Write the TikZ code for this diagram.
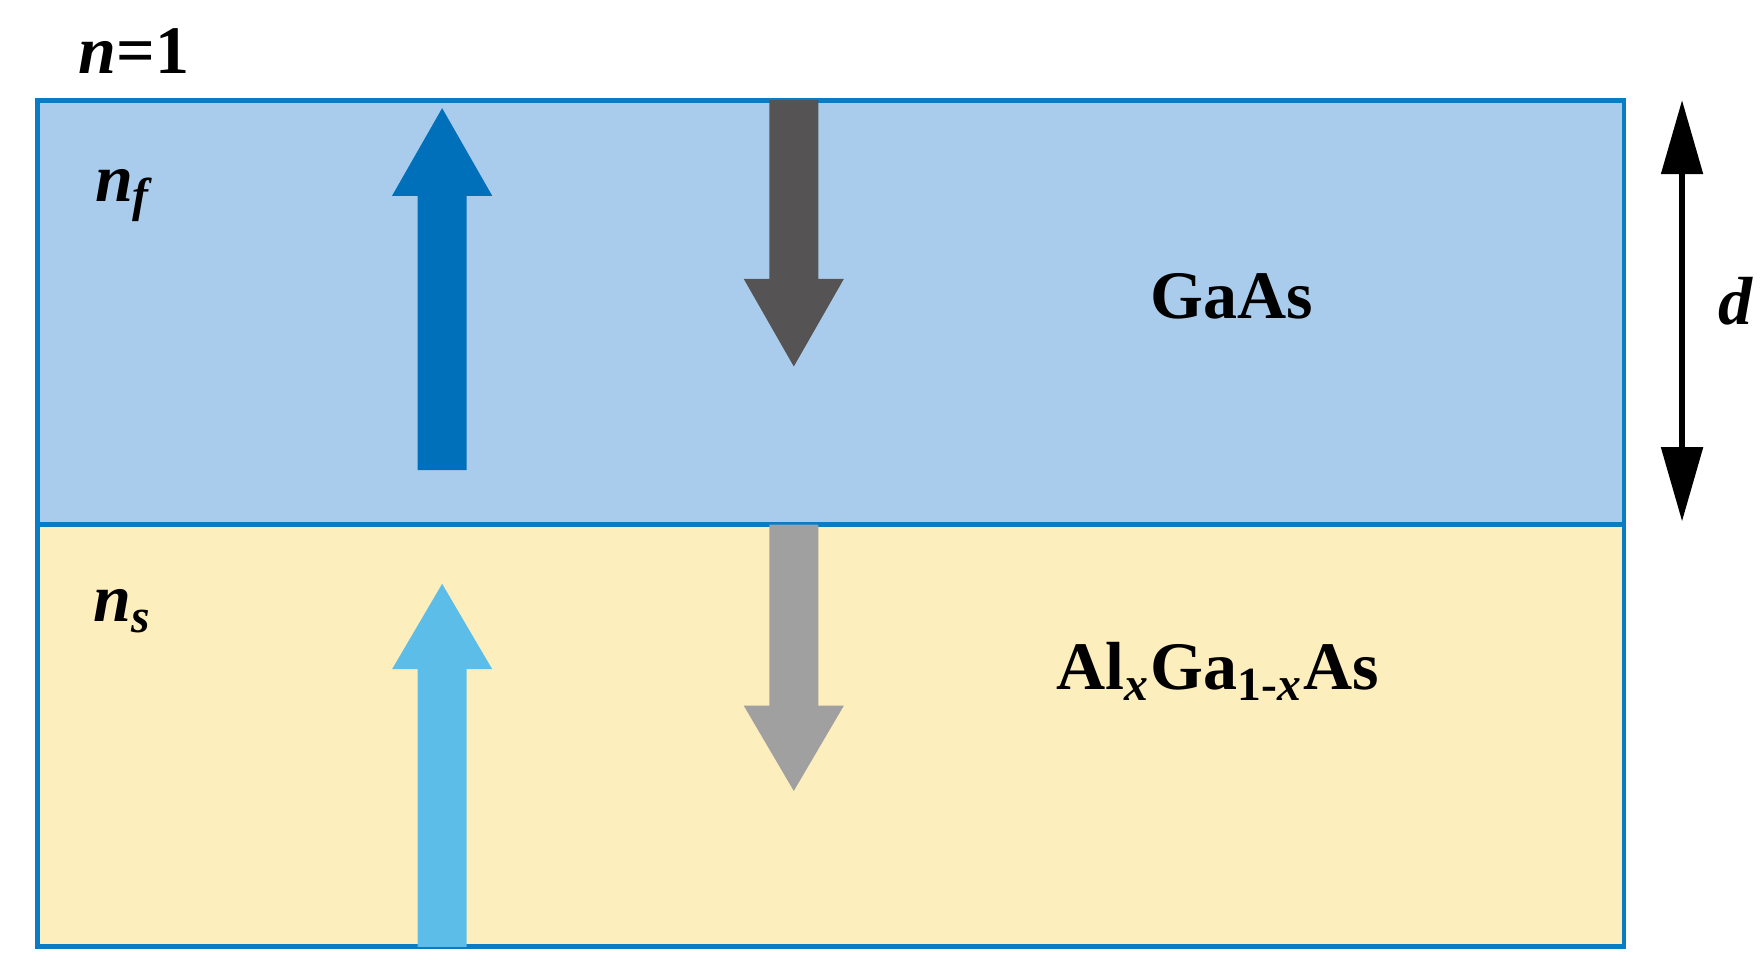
\documentclass[tikz,border=0pt]{standalone}
\usepackage{fontspec}
\setmainfont{Liberation Serif}
\usetikzlibrary{arrows.meta}
\definecolor{film}{HTML}{AACCEC}
\definecolor{sub}{HTML}{FDEEBE}
\definecolor{edge}{HTML}{0A7CC4}
\definecolor{cblue}{HTML}{0070BA}
\definecolor{cdark}{HTML}{555354}
\definecolor{clight}{HTML}{5BBDE8}
\definecolor{cgray}{HTML}{A0A0A0}
\tikzset{lbl/.style={font=\fontsize{17}{20}\selectfont\bfseries, text=black, inner sep=0}}
\newcommand{\uparr}[5]{% x, ybottom, yheadbase, ytip, color
  \fill[#5] (#1-21.5,#2) -- (#1-21.5,#3) -- (#1-44,#3) -- (#1,#4) -- (#1+44,#3) -- (#1+21.5,#3) -- (#1+21.5,#2) -- cycle;}
\begin{document}
\begin{tikzpicture}[x=0.01cm,y=-0.01cm]
\useasboundingbox (0,0) rectangle (1550,853);
\fill[film] (33,88) rectangle (1427,461);
\fill[sub] (33,461) rectangle (1427,832);
\draw[edge, line width=1.2pt] (33,88) rectangle (1427,832);
\draw[edge, line width=1.2pt] (33,461) -- (1427,461);
\uparr{388.5}{413}{172}{95}{cblue}
\uparr{388.5}{832}{588}{513}{clight}
\uparr{697.5}{88}{245}{322}{cdark}
\uparr{697.5}{461}{620}{695}{cgray}
\coordinate (dt) at (1478,88);
\coordinate (db) at (1478,458);
\draw[line width=1.3pt, {Triangle[length=0.65cm,width=0.36cm]}-{Triangle[length=0.65cm,width=0.36cm]}] (dt) -- (db);
\node[lbl] (n1) at (118,45) {\itshape n\upshape=1};
\node[lbl] (nf) at (108,172) {\itshape n\textsubscript{f}};
\node[lbl] (ns) at (108,537) {\itshape n\textsubscript{s}};
\node[lbl] (d) at (1525,265) {\itshape d};
\node[lbl] (gaas) at (1082,260) {GaAs};
\node[lbl] (algaas) at (1070,590) {Al\textsubscript{\itshape x}Ga\textsubscript{1-\itshape x}As};
\end{tikzpicture}
\end{document}
